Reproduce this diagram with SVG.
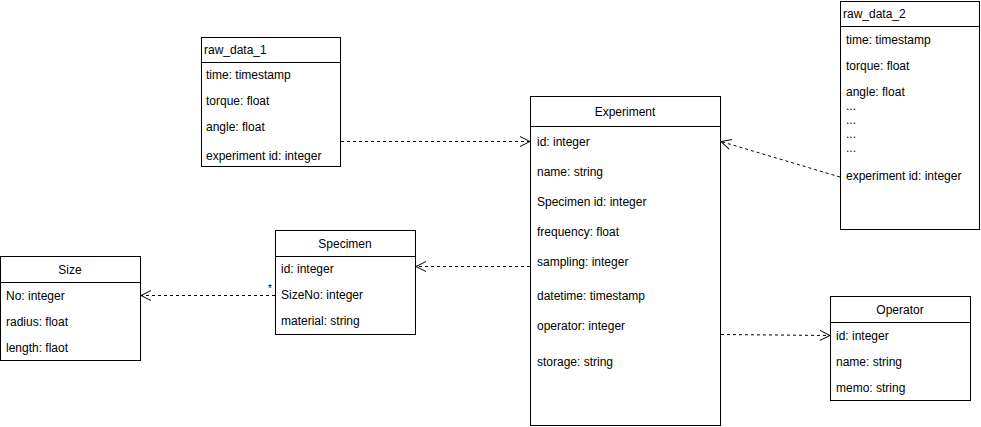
<svg xmlns="http://www.w3.org/2000/svg" width="981" height="427" viewBox="0 0 981 427">
<defs>
<style>
.box{fill:#fff;stroke:#000;stroke-width:1}
.t{font-family:"Liberation Sans",Arial,Helvetica,sans-serif;font-size:12px;fill:#000}
.c{text-anchor:middle}
.e{fill:none;stroke:#000;stroke-width:1;stroke-dasharray:3 3}
</style>
<marker id="open" viewBox="0 0 12 12" refX="11" refY="6" markerWidth="12" markerHeight="12" markerUnits="userSpaceOnUse" orient="auto">
<path d="M1 1 L11 6 L1 11" fill="none" stroke="#000" stroke-width="1"/>
</marker>
</defs>
<rect width="981" height="427" fill="#fff"/>

<g id="raw_data_1">
<rect class="box" x="201.5" y="37.5" width="139" height="129"/>
<line class="box" x1="201.5" y1="62.5" x2="340.5" y2="62.5"/>
<text class="t" x="204" y="54">raw_data_1</text>
<text class="t" x="206" y="79">time: timestamp</text>
<text class="t" x="206" y="105">torque: float</text>
<text class="t" x="206" y="131">angle: float</text>
<text class="t" x="206" y="160">experiment id: integer</text>
</g>

<g id="Experiment">
<rect class="box" x="530.5" y="96.5" width="190" height="329"/>
<line class="box" x1="530.5" y1="126.5" x2="720.5" y2="126.5"/>
<text class="t c" x="625" y="116">Experiment</text>
<text class="t" x="537" y="146">id: integer</text>
<text class="t" x="537" y="176">name: string</text>
<text class="t" x="537" y="206">Specimen id: integer</text>
<text class="t" x="537" y="236">frequency: float</text>
<text class="t" x="537" y="266">sampling: integer</text>
<text class="t" x="537" y="300">datetime: timestamp</text>
<text class="t" x="537" y="330">operator: integer</text>
<text class="t" x="537" y="366">storage: string</text>
</g>

<g id="raw_data_2">
<rect class="box" x="840.5" y="1.5" width="139" height="228"/>
<line class="box" x1="840.5" y1="26.5" x2="979.5" y2="26.5"/>
<text class="t" x="843" y="18">raw_data_2</text>
<text class="t" x="846" y="44">time: timestamp</text>
<text class="t" x="846" y="70">torque: float</text>
<text class="t" x="846" y="96">angle: float</text>
<text class="t" x="846" y="110">...</text>
<text class="t" x="846" y="124">...</text>
<text class="t" x="846" y="138">...</text>
<text class="t" x="846" y="152">...</text>
<text class="t" x="846" y="180">experiment id: integer</text>
</g>

<g id="Specimen">
<rect class="box" x="275.5" y="230.5" width="140" height="104"/>
<line class="box" x1="275.5" y1="256.5" x2="415.5" y2="256.5"/>
<text class="t c" x="345" y="248">Specimen</text>
<text class="t" x="281" y="273">id: integer</text>
<text class="t" x="281" y="299">SizeNo: integer</text>
<text class="t" x="281" y="325">material: string</text>
</g>

<g id="Size">
<rect class="box" x="0.5" y="256.5" width="140" height="104"/>
<line class="box" x1="0.5" y1="282.5" x2="140.5" y2="282.5"/>
<text class="t c" x="70" y="274">Size</text>
<text class="t" x="6" y="300">No: integer</text>
<text class="t" x="6" y="326">radius: float</text>
<text class="t" x="6" y="352">length: flaot</text>
</g>

<g id="Operator">
<rect class="box" x="830.5" y="296.5" width="140" height="104"/>
<line class="box" x1="830.5" y1="322.5" x2="970.5" y2="322.5"/>
<text class="t c" x="900" y="314">Operator</text>
<text class="t" x="836" y="340">id: integer</text>
<text class="t" x="836" y="366">name: string</text>
<text class="t" x="836" y="392">memo: string</text>
</g>

<g id="connectors">
<line class="e" x1="341" y1="141.5" x2="530" y2="141.5" marker-end="url(#open)"/>
<line class="e" x1="840" y1="177" x2="721" y2="141.5" marker-end="url(#open)"/>
<line class="e" x1="530" y1="266.5" x2="416" y2="266.5" marker-end="url(#open)"/>
<line class="e" x1="275" y1="295.5" x2="141" y2="295.5" marker-end="url(#open)"/>
<text class="t" x="268" y="292" style="font-size:10px">*</text>
<line class="e" x1="721" y1="334.5" x2="830" y2="335.5" marker-end="url(#open)"/>
</g>
</svg>
